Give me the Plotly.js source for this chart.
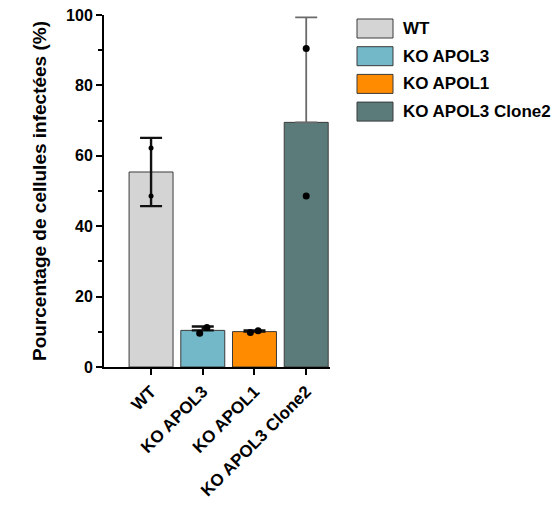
<!DOCTYPE html>
<html><head><meta charset="utf-8">
<script src="https://cdn.plot.ly/plotly-3.0.1.min.js"></script>
<style>body{margin:0;background:#fff}#chart{width:558px;height:505px}</style>
</head><body><div id="chart"></div>
<script>
const categories = ["WT", "KO APOL3", "KO APOL1", "KO APOL3 Clone2"];
const means = [55.4, 10.4, 10.05, 69.5];
const sdPlus = [9.7, 1.1, 0.3, 29.8];
const sdMinus = [9.7, 0, 0, 0];
const pointValues = [[62.2, 48.6], [9.6, 11.2], [9.8, 10.3], [90.5, 48.6]];
const pointOffsets = [[0, 0], [-0.06, 0.08], [-0.08, 0.07], [0, 0]];
const barColors = ["#d4d4d4", "#72b8c8", "#ff8c00", "#5b7b7a"];
const errColors = ["#111111", "#111111", "#111111", "#6a6a6a"];
const yTickVals = [0, 20, 40, 60, 80, 100];
const yTitle = "Pourcentage de cellules infectées (%)";

const FONT = "Liberation Sans, Arial, sans-serif";
const traces = [];
categories.forEach((c, i) => {
  traces.push({
    type: "bar", x: [i], y: [means[i]], name: c, width: 0.85,
    marker: {color: barColors[i], line: {color: "#3a3a3a", width: 1}},
    error_y: {type: "data", symmetric: false, array: [sdPlus[i]], arrayminus: [sdMinus[i]],
      color: errColors[i], thickness: i === 3 ? 1.8 : 2.4, width: 11},
    showlegend: false, hoverinfo: "skip"
  });
});
categories.forEach((c, i) => {
  traces.push({
    type: "scatter", mode: "markers",
    x: pointOffsets[i].map(o => i + o), y: pointValues[i],
    marker: {color: "#000", size: i === 0 ? 5 : 7},
    showlegend: false, hoverinfo: "skip"
  });
});

// custom legend (large boxes) built from categories/colors
const L = 104, R = 330, T = 15, B = 367;
const pw = R - L, ph = B - T;
const shapes = [], annotations = [];
categories.forEach((c, i) => {
  const top = 19 + 27.7 * i, bot = top + 19;
  shapes.push({type: "rect", xref: "paper", yref: "paper",
    x0: (357 - L) / pw, x1: (393 - L) / pw,
    y0: (B - bot) / ph, y1: (B - top) / ph,
    fillcolor: barColors[i], line: {color: "#3a3a3a", width: 1}});
  annotations.push({xref: "paper", yref: "paper", x: (401 - L) / pw, y: (B - (top + bot) / 2) / ph,
    xanchor: "left", yanchor: "middle", showarrow: false, text: c,
    font: {family: FONT, size: 17, color: "#000", weight: "bold"}});
});

const layout = {
  width: 558, height: 505,
  margin: {l: L, r: 558 - R, t: T, b: 505 - B},
  paper_bgcolor: "#fff", plot_bgcolor: "#fff",
  showlegend: false, barmode: "overlay",
  xaxis: {
    range: [-0.91, 3.46], tickvals: categories.map((c, i) => i), ticktext: categories,
    tickangle: -45, ticks: "outside", ticklen: 6, tickwidth: 2, tickcolor: "#000",
    showline: true, linecolor: "#000", linewidth: 2, showgrid: false, zeroline: false,
    tickfont: {family: FONT, size: 17, color: "#000", weight: "bold"}, fixedrange: true
  },
  yaxis: {
    range: [0, 100], tickvals: yTickVals, ticks: "outside", ticklen: 6, tickwidth: 2, tickcolor: "#000",
    minor: {dtick: 10, ticks: "outside", ticklen: 4, tickwidth: 2, tickcolor: "#000", showgrid: false},
    showline: true, linecolor: "#000", linewidth: 2, showgrid: false, zeroline: false,
    tickfont: {family: FONT, size: 16, color: "#000", weight: "bold"},
    title: {text: yTitle, standoff: 14, font: {family: FONT, size: 19, color: "#000", weight: "bold"}},
    fixedrange: true
  },
  shapes: shapes, annotations: annotations
};
Plotly.newPlot("chart", traces, layout, {displayModeBar: false, staticPlot: true});
</script></body></html>
